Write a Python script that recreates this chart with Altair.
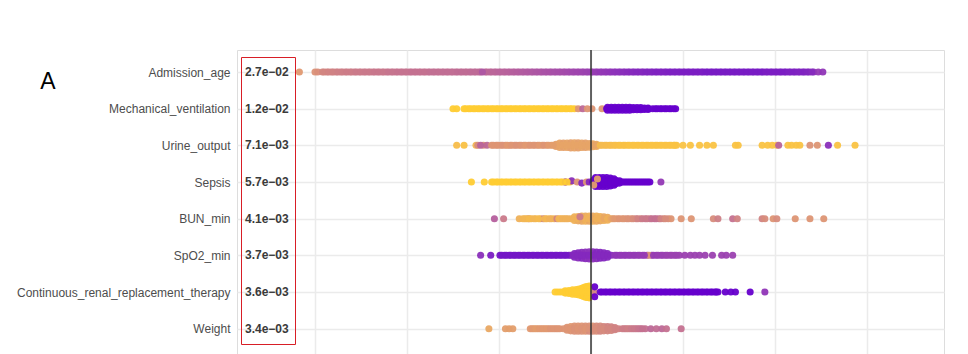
import altair as alt
import pandas as pd

# Features ordered by mean |SHAP| (top of plot first)
FEATURES = [
    "Admission_age", "Mechanical_ventilation", "Urine_output", "Sepsis",
    "BUN_min", "SpO2_min", "Continuous_renal_replacement_therapy", "Weight",
]
IMPORTANCE = [0.027, 0.012, 0.0071, 0.0057, 0.0041, 0.0037, 0.0036, 0.0034]
X_GRID = [-0.03, -0.02, -0.01, 0.0, 0.01, 0.02, 0.03]

# Points: (SHAP value x 1e-4, feature value 0-100, sina offset in 1/100 row)
AGE = [(-317, 28), (-300, 32), (-297, 34),
       (-292, 38), (-287, 40), (-282, 41), (-277, 42), (-272, 43), (-267, 43), (-262, 44), (-257, 45),
       (-252, 45), (-247, 46), (-242, 46), (-237, 47), (-232, 47), (-227, 47), (-222, 48), (-217, 48),
       (-212, 48), (-207, 49), (-202, 49), (-197, 50), (-192, 50), (-187, 50), (-182, 50), (-177, 50),
       (-172, 51), (-167, 51), (-162, 51), (-157, 52), (-152, 52), (-147, 52), (-142, 53), (-137, 53),
       (-132, 54), (-127, 54), (-122, 55), (-113, 55), (-108, 56), (-103, 57), (-98, 58),
       (-93, 59), (-88, 60), (-83, 61), (-78, 62), (-73, 63), (-68, 64), (-63, 65), (-58, 66), (-53, 67),
       (-48, 68), (-43, 69), (-38, 70), (-33, 71), (-28, 72), (-23, 73), (-18, 74), (-13, 75), (-8, 76),
       (-3, 77), (2, 78), (7, 79), (12, 80), (17, 82), (22, 83), (27, 84), (32, 85), (37, 86), (42, 87),
       (47, 88), (52, 88), (57, 89), (62, 89), (67, 90), (72, 90), (77, 90), (82, 91), (87, 91), (92, 91),
       (97, 92), (102, 92), (107, 92), (112, 92), (117, 92), (122, 93), (127, 93), (132, 93), (137, 93),
       (142, 93), (147, 93), (152, 93), (157, 93), (162, 93), (167, 93), (172, 93), (177, 93), (182, 93),
       (187, 93), (192, 92), (197, 92), (202, 92), (207, 92), (212, 92), (217, 91), (222, 91), (227, 90),
       (232, 90), (237, 88), (242, 85), (247, 80), (252, 82)]
AGE_DENSE = [(-290, 39), (-285, 40), (-280, 41), (-275, 42), (-270, 43), (-265, 44),
             (-260, 44), (-255, 45), (-250, 45), (-245, 46), (-240, 46), (-235, 47),
             (-230, 47), (-225, 47), (-220, 48), (-215, 48), (-210, 49), (-205, 49),
             (-200, 49), (-195, 50), (-190, 50), (-185, 50), (-180, 50), (-175, 51),
             (-170, 51), (-165, 51), (-160, 52), (-155, 52), (-150, 52), (-145, 53),
             (-140, 53), (-135, 53), (-130, 54), (-125, 54), (-120, 55), (-115, 55),
             (-110, 56), (-105, 57), (-100, 58), (-95, 58), (-90, 59), (-85, 60),
             (-80, 61), (-75, 62), (-70, 63), (-65, 64), (-60, 65), (-55, 66),
             (-50, 67), (-45, 68), (-40, 69), (-35, 70), (-30, 71), (-25, 72),
             (-20, 73), (-15, 74), (-10, 75), (-5, 76), (0, 77), (5, 78), (10, 80),
             (15, 81), (20, 82), (25, 83), (30, 84), (35, 85), (40, 86), (45, 87),
             (50, 88), (55, 88), (60, 89), (65, 89), (70, 90), (75, 90), (80, 90),
             (85, 91), (90, 91), (95, 91), (100, 92), (105, 92), (110, 92),
             (115, 92), (120, 92), (125, 93), (130, 93), (135, 93), (140, 93),
             (145, 93), (150, 93), (155, 93), (160, 93), (165, 93), (170, 93),
             (175, 93), (180, 93), (185, 93), (190, 92), (195, 92), (200, 92),
             (205, 92), (210, 92), (215, 91), (220, 91), (225, 90), (230, 90),
             (235, 89), (240, 87), (-118, 65)]

MV = [(-150, 0), (-146, 0),
      (-138, 0), (-133, 0), (-128, 0), (-123, 0), (-118, 0), (-113, 0), (-108, 0), (-103, 0), (-98, 0),
      (-93, 0), (-88, 0), (-83, 0), (-78, 0), (-73, 0), (-68, 0), (-63, 0), (-58, 0), (-53, 0), (-48, 0),
      (-43, 0), (-38, 0), (-33, 0), (-28, 0), (-23, 0), (-18, 0),
      (-14, 30), (-9, 55), (-4, 30), (1, 30), (12, 30),
      (18, 100, -4), (18, 100, 4), (22, 100, -4), (22, 100, 4), (26, 100, -4), (26, 100, 4),
      (30, 100, -4), (30, 100, 4), (34, 100, -4), (34, 100, 4), (38, 100, -4), (38, 100, 4),
      (42, 100, -4), (42, 100, 4), (46, 100, -3), (46, 100, 3), (50, 100, -3), (50, 100, 3),
      (54, 100, -3), (54, 100, 3), (58, 100, -2), (58, 100, 2), (62, 100, -2), (62, 100, 2),
      (17, 100), (22, 100), (27, 100), (32, 100), (37, 100), (42, 100), (47, 100), (52, 100), (57, 100),
      (62, 100), (67, 100), (72, 100), (77, 100), (82, 100), (87, 100), (92, 100)]
MV_DENSE = [(-136, 0), (-131, 0), (-126, 0), (-121, 0), (-116, 0), (-111, 0),
            (-106, 0), (-101, 0), (-96, 0), (-91, 0), (-86, 0), (-81, 0), (-76, 0),
            (-71, 0), (-66, 0), (-61, 0), (-56, 0), (-51, 0), (-46, 0), (-41, 0),
            (-36, 0), (-31, 0), (-26, 0), (-21, 0),
            (70, 100), (75, 100), (80, 100), (85, 100), (90, 100)]

UO = [(-146, 8), (-138, 6), (-125, 12), (-123, 35), (-117, 30), (-120, 58), (-113, 55),
      (-108, 30), (-103, 32), (-98, 28), (-93, 30), (-88, 33), (-83, 30), (-78, 28), (-73, 32), (-68, 30),
      (-63, 28), (-58, 30), (-53, 27), (-48, 28), (-43, 26),
      (-38, 24, -3), (-38, 24, 3), (-34, 22, -6), (-34, 22, 6), (-30, 24, -6), (-30, 24, 6),
      (-26, 22, -6), (-26, 22, 6), (-22, 24, -7), (-22, 24, 7), (-18, 22, -7), (-18, 22, 7),
      (-14, 24, -7), (-14, 24, 7), (-10, 22, -6), (-10, 22, 6), (-6, 24, -6), (-6, 24, 6),
      (-2, 22, -5), (-2, 22, 5), (2, 20, -4), (2, 20, 4), (6, 18, -3), (6, 18, 3),
      (-38, 22), (-34, 22), (-30, 22), (-26, 22), (-22, 22), (-18, 22), (-14, 22), (-10, 22), (-6, 22),
      (-2, 22), (2, 22), (6, 22),
      (10, 10), (15, 10), (20, 8), (25, 8), (30, 6), (35, 6), (40, 5), (45, 5), (50, 5), (55, 5),
      (60, 5), (65, 5), (70, 5), (75, 5), (80, 5), (85, 5), (90, 5), (93, 5),
      (100, 5), (108, 5), (118, 5), (126, 5), (133, 5), (157, 5), (160, 5), (186, 5), (192, 5), (197, 5),
      (202, 5), (204, 58), (214, 5), (218, 5), (223, 5), (227, 5), (238, 32), (246, 30), (258, 85),
      (268, 5), (287, 5)]
UO_DENSE = [(12, 10), (17, 9), (22, 8), (27, 7), (32, 6), (37, 6), (42, 5),
            (47, 5), (52, 5), (57, 5), (62, 5), (67, 5), (72, 5), (77, 5),
            (82, 5), (87, 5), (91, 5),
            (-106, 30), (-101, 30), (-96, 32), (-91, 28), (-86, 30), (-81, 32),
            (-76, 30), (-71, 28), (-66, 30), (-61, 30), (-56, 28), (-51, 30),
            (-46, 27), (-41, 25)]

SEPSIS = [(-130, 0), (-116, 0),
          (-108, 0), (-103, 0), (-98, 0), (-93, 0), (-88, 0), (-83, 0), (-78, 0), (-73, 0), (-68, 0),
          (-63, 0), (-58, 0), (-53, 0), (-48, 0), (-43, 0), (-38, 0), (-33, 0), (-28, 0), (-23, 0),
          (-28, 88), (-21, 85, -3), (-15, 30), (-10, 88, 3), (-5, 30), (-2, 88),
          (5, 100, -12), (5, 100, 12), (9, 100, -12), (9, 100, 12), (13, 100, -12), (13, 100, 12),
          (17, 100, -12), (17, 100, 12), (21, 100, -11), (21, 100, 11), (25, 100, -9), (25, 100, 9),
          (3, 100, -6), (3, 100, 6), (7, 100, -6), (7, 100, 6), (11, 100, -6), (11, 100, 6),
          (15, 100, -6), (15, 100, 6), (19, 100, -6), (19, 100, 6), (23, 100, -6), (23, 100, 6),
          (27, 100, -5), (27, 100, 5), (31, 100, -3), (31, 100, 3),
          (2, 100), (6, 100), (10, 100), (14, 100), (18, 100), (22, 100), (26, 100), (30, 100),
          (3, 25, 8), (7, 25, -8),
          (34, 100), (38, 100), (42, 100), (46, 100), (50, 100), (54, 100), (58, 100), (62, 100), (64, 100),
          (76, 80)]
SEPSIS_DENSE = [(-106, 0), (-101, 0), (-96, 0), (-91, 0), (-86, 0), (-81, 0),
                (-76, 0), (-71, 0), (-66, 0), (-61, 0), (-56, 0), (-51, 0),
                (-46, 0), (-41, 0), (-36, 0), (-31, 0), (-26, 0),
                (36, 100), (40, 100), (44, 100), (48, 100), (52, 100), (56, 100),
                (60, 100)]

BUN = [(-105, 60), (-95, 45), (-78, 15), (-68, 45),
       (-74, 12), (-70, 10), (-65, 12), (-60, 10), (-55, 15), (-52, 40), (-48, 10), (-43, 12), (-40, 15),
       (-37, 40), (-33, 12), (-29, 15), (-25, 18),
       (-18, 15, -5), (-18, 15, 5), (-14, 15, -6), (-14, 18, 6), (-10, 15, -7), (-10, 20, 7),
       (-6, 18, -7), (-6, 15, 7), (-2, 15, -7), (-2, 20, 7), (2, 20, -7), (2, 15, 7),
       (6, 15, -7), (6, 18, 7), (10, 15, -6), (10, 20, 6), (14, 20, -5), (14, 15, 5),
       (18, 18, -4), (18, 15, 4),
       (-22, 15), (-18, 15), (-14, 15), (-10, 20), (-6, 15), (-2, 15), (2, 20), (6, 15), (10, 15),
       (14, 20), (18, 15), (22, 20), (-12, 45, -5),
       (24, 25), (29, 30), (34, 28), (39, 35), (44, 30), (49, 45), (54, 35), (59, 50), (64, 40), (69, 55),
       (74, 50), (79, 35), (84, 35), (87, 30),
       (98, 30), (109, 30), (133, 35), (138, 42), (154, 50), (159, 40), (186, 40), (189, 35), (198, 30),
       (202, 35), (222, 30), (238, 30), (253, 30)]
BUN_DENSE = [(-72, 12), (-67, 10), (-62, 12), (-57, 10), (-50, 12), (-45, 15),
             (-35, 12), (-31, 15), (-27, 15),
             (26, 28), (31, 30), (36, 30), (41, 32), (46, 35), (51, 40), (56, 45),
             (61, 45), (66, 50), (71, 50), (76, 40), (81, 35)]

SPO2 = [(-120, 85), (-109, 92),
        (-99, 95), (-94, 95), (-89, 95), (-84, 95), (-79, 95), (-74, 95), (-69, 95), (-64, 95), (-59, 95),
        (-54, 95), (-49, 95), (-44, 95), (-39, 95), (-34, 95), (-29, 95), (-24, 95),
        (-18, 88, -5), (-18, 88, 5), (-14, 88, -7), (-14, 86, 7), (-10, 86, -8), (-10, 88, 8),
        (-6, 85, -9), (-6, 86, 9), (-2, 84, -10), (-2, 85, 10), (2, 85, -10), (2, 84, 10),
        (6, 88, -9), (6, 85, 9), (10, 88, -8), (10, 88, 8), (14, 88, -7), (14, 88, 7),
        (18, 88, -5), (18, 88, 5),
        (-22, 88), (-18, 88), (-14, 88), (-10, 88), (-6, 88), (-2, 88), (2, 88), (6, 88), (10, 88),
        (14, 88), (18, 88), (22, 88),
        (26, 82), (31, 82), (36, 81), (41, 81), (46, 80), (51, 80), (56, 79), (61, 79), (66, 78), (71, 78),
        (76, 77), (81, 77), (86, 76), (91, 76), (96, 76), (63, 30),
        (102, 76), (108, 76), (113, 76), (118, 76), (124, 76), (132, 76), (142, 76), (147, 76), (154, 76)]
SPO2_DENSE = [(-97, 95), (-92, 95), (-87, 95), (-82, 95), (-77, 95), (-72, 95),
              (-67, 95), (-62, 95), (-57, 95), (-52, 95), (-47, 95), (-42, 95),
              (-37, 95), (-32, 95), (-27, 95),
              (28, 82), (33, 81), (38, 81), (43, 80), (48, 80), (53, 79), (58, 79),
              (68, 78), (73, 77), (78, 77), (83, 76), (88, 76), (93, 76)]

CRRT = [(-28, 0, -3), (-28, 0, 3), (-24, 0, -4), (-24, 0, 4), (-20, 0, -6), (-20, 0, 6),
        (-16, 0, -7), (-16, 0, 7), (-13, 0, -8), (-13, 0, 8), (-10, 0, -10), (-10, 0, 10),
        (-8, 0, -12), (-8, 0, 12), (-6, 0, -14), (-6, 0, 14), (-4, 0, -15), (-4, 0, 15),
        (-2, 0, -16), (-2, 0, 16), (-1, 0, -10), (-1, 0, 10), (-4, 0, -8), (-4, 0, 8),
        (-39, 0), (-36, 0), (-33, 0), (-30, 0), (-27, 0), (-24, 0), (-21, 0), (-18, 0), (-15, 0),
        (-12, 0), (-9, 0), (-6, 0), (-3, 0), (-1, 0),
        (3, 40), (4, 100, -14), (4, 100, 13),
        (10, 100), (15, 100), (20, 100), (25, 100), (30, 100), (35, 100), (40, 100), (45, 100), (50, 100),
        (55, 100), (60, 100), (65, 100), (70, 100), (75, 100), (80, 100), (85, 100), (90, 100), (95, 100),
        (100, 100), (105, 100), (110, 100), (115, 100), (120, 100), (125, 100), (130, 100), (135, 100),
        (138, 100),
        (146, 100), (152, 100), (157, 100), (173, 100), (189, 82)]
CRRT_DENSE = [(12, 100), (17, 100), (22, 100), (27, 100), (32, 100), (37, 100),
              (42, 100), (47, 100), (52, 100), (57, 100), (62, 100), (67, 100),
              (72, 100), (77, 100), (82, 100), (87, 100), (92, 100), (97, 100),
              (102, 100), (107, 100), (112, 100), (117, 100), (122, 100), (127, 100),
              (132, 100), (136, 100)]

WEIGHT = [(-111, 20), (-93, 25), (-89, 25), (-85, 25),
          (-66, 28), (-62, 25), (-58, 28), (-54, 30), (-50, 26), (-46, 30), (-42, 28), (-38, 30), (-34, 30),
          (-26, 30, -4), (-26, 30, 4), (-22, 28, -6), (-22, 30, 6), (-18, 30, -7), (-18, 32, 7),
          (-14, 30, -7), (-14, 32, 7), (-10, 30, -7), (-10, 32, 7), (-6, 32, -7), (-6, 30, 7),
          (-2, 32, -7), (-2, 35, 7), (2, 30, -7), (2, 34, 7), (6, 35, -7), (6, 34, 7),
          (10, 36, -7), (10, 38, 7), (14, 38, -6), (14, 36, 6), (18, 40, -6), (18, 38, 6),
          (22, 40, -5), (22, 38, 5), (26, 40, -3), (26, 40, 3),
          (-30, 30), (-26, 30), (-22, 30), (-18, 32), (-14, 30), (-10, 32), (-6, 30), (-2, 32), (2, 34),
          (6, 34), (10, 36), (14, 36), (18, 38), (22, 38), (26, 40), (30, 40),
          (34, 42), (38, 45), (42, 40), (46, 48), (50, 45), (54, 50),
          (59, 50), (65, 55), (71, 52), (77, 55), (82, 50), (98, 50)]
WEIGHT_DENSE = [(-64, 28), (-60, 26), (-56, 28), (-52, 28), (-48, 28), (-44, 30),
                (-40, 30), (-36, 30),
                (36, 44), (40, 42), (44, 45), (48, 46), (52, 48), (56, 50)]

POINTS = [AGE + AGE_DENSE, MV + MV_DENSE, UO + UO_DENSE, SEPSIS + SEPSIS_DENSE,
          BUN + BUN_DENSE, SPO2 + SPO2_DENSE, CRRT + CRRT_DENSE, WEIGHT + WEIGHT_DENSE]

rows = []
for rank, pts in enumerate(POINTS):
    for p in pts:
        jit = p[2] if len(p) > 2 else 0
        rows.append({
            "feature": FEATURES[rank],
            "shap": p[0] / 10000.0,
            "value": p[1] / 100.0,
            "pos": rank + jit / 100.0,
        })
pts_df = pd.DataFrame(rows)

imp_df = pd.DataFrame({
    "rank": list(range(len(FEATURES))),
    "label": [f"{v:.1e}".replace("-", "\u2212") for v in IMPORTANCE],
})

label_expr = "[" + ",".join(f"'{f}'" for f in FEATURES) + "][datum.value]"

x_scale = alt.Scale(domain=[-0.03848, 0.03837], nice=False, zero=False)
y_scale = alt.Scale(domain=[-0.6, 8.4], reverse=True, nice=False, zero=False)

x_axis = alt.Axis(values=X_GRID, grid=True, gridColor="#ebebeb", gridWidth=1.5,
                  labels=False, ticks=False, domain=False, title=None)
y_axis = alt.Axis(values=list(range(len(FEATURES))), labelExpr=label_expr, grid=True,
                  gridColor="#ebebeb", gridWidth=1.5, ticks=False, domain=False,
                  labelPadding=7, labelFontSize=12, labelColor="#4d4d4d", labelLimit=0,
                  labelFont="Liberation Sans", title=None)

points = alt.Chart(pts_df).mark_circle(size=50, opacity=0.95).encode(
    x=alt.X("shap:Q", scale=x_scale, axis=x_axis),
    y=alt.Y("pos:Q", scale=y_scale, axis=y_axis),
    color=alt.Color("value:Q", scale=alt.Scale(domain=[0, 1], range=["#FFCC33", "#6600CC"],
                                               interpolate="lab"), legend=None),
)

zero = alt.Chart(pd.DataFrame({"x": [0.0]})).mark_rule(color="#333333", strokeWidth=1.5).encode(
    x=alt.X("x:Q", scale=x_scale)
)

imp_text = alt.Chart(imp_df).mark_text(
    align="left", baseline="middle", fontWeight="bold", fontSize=12,
    color="#3a3a3a", font="Liberation Sans"
).encode(
    x=alt.value(8),
    y=alt.Y("rank:Q", scale=y_scale),
    text="label:N",
)

box = alt.Chart(pd.DataFrame({"k": [0]})).mark_rect(
    fill="transparent", stroke="#d81e26", strokeWidth=1
).encode(x=alt.value(4.5), x2=alt.value(58.5), y=alt.value(7.5), y2=alt.value(294.5))

panel_label = alt.Chart(pd.DataFrame({"t": ["A"]})).mark_text(
    align="center", baseline="alphabetic", fontSize=23, color="black", font="Liberation Sans"
).encode(x=alt.value(-189), y=alt.value(39), text="t:N")

chart = alt.layer(points, zero, imp_text, box, panel_label).properties(
    width=707, height=330,
    padding={"left": 237, "top": 50, "right": 24, "bottom": 10},
    autosize=alt.AutoSizeParams(type="none"),
).configure_view(stroke="#5a5a5a", strokeWidth=1).configure(background="white")

chart.save("out.html", embed_options={"renderer": "svg", "actions": False})
